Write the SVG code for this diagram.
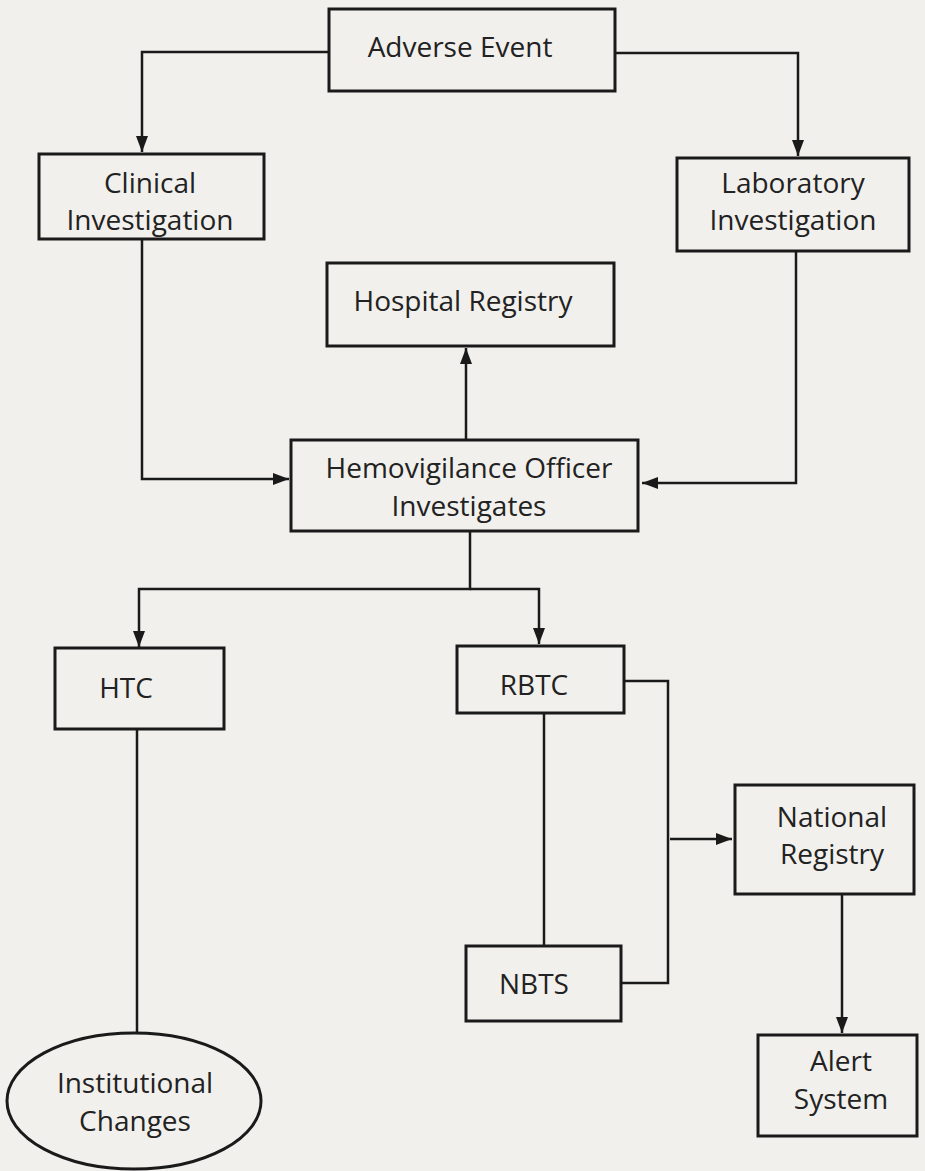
<svg xmlns="http://www.w3.org/2000/svg" width="925" height="1171" viewBox="0 0 925 1171">
<style>
.box{fill:none;stroke:#1a1a1a;stroke-width:3}
.ln{fill:none;stroke:#1a1a1a;stroke-width:2.5}
text{font-family:"Open Sans",Lato,"Liberation Sans",sans-serif;font-size:28px;fill:#222;text-anchor:middle}
</style>
<defs>
<marker id="ah" viewBox="0 0 16 12" refX="16" refY="6" markerWidth="16" markerHeight="12" markerUnits="userSpaceOnUse" orient="auto">
<path d="M0,0 L16,6 L0,12 Z" fill="#1a1a1a"/>
</marker>
</defs>
<rect width="925" height="1171" fill="#f1f0ec"/>
<g id="connectors">
<path class="ln" d="M329,52 H142 V152" marker-end="url(#ah)"/>
<path class="ln" d="M615,53 H798 V156" marker-end="url(#ah)"/>
<path class="ln" d="M466,440 V348" marker-end="url(#ah)"/>
<path class="ln" d="M142,239 V479 H289" marker-end="url(#ah)"/>
<path class="ln" d="M796,251 V483 H642" marker-end="url(#ah)"/>
<path class="ln" d="M470,531 V589 H139 V647" marker-end="url(#ah)"/>
<path class="ln" d="M470,589 H539 V644" marker-end="url(#ah)"/>
<path class="ln" d="M624,681 H668 V983 H621"/>
<path class="ln" d="M670,839 H732" marker-end="url(#ah)"/>
<path class="ln" d="M544,713 V946"/>
<path class="ln" d="M137,729 V1033"/>
<path class="ln" d="M842,894 V1033" marker-end="url(#ah)"/>
</g>
<g id="adverse-event">
<rect class="box" x="329" y="9" width="286" height="82"/>
<text x="460" y="57">Adverse Event</text>
</g>
<g id="clinical-investigation">
<rect class="box" x="39" y="154" width="225" height="85"/>
<text x="150" y="193">Clinical</text>
<text x="150" y="230">Investigation</text>
</g>
<g id="laboratory-investigation">
<rect class="box" x="677" y="158" width="232" height="93"/>
<text x="793" y="193">Laboratory</text>
<text x="793" y="230">Investigation</text>
</g>
<g id="hospital-registry">
<rect class="box" x="327" y="263" width="287" height="83"/>
<text x="463" y="311">Hospital Registry</text>
</g>
<g id="hemovigilance-officer">
<rect class="box" x="291" y="440" width="347" height="91"/>
<text x="469" y="478">Hemovigilance Officer</text>
<text x="469" y="516">Investigates</text>
</g>
<g id="htc">
<rect class="box" x="55" y="648" width="169" height="81"/>
<text x="126" y="698">HTC</text>
</g>
<g id="rbtc">
<rect class="box" x="457" y="646" width="167" height="67"/>
<text x="534" y="695">RBTC</text>
</g>
<g id="national-registry">
<rect class="box" x="735" y="785" width="179" height="109"/>
<text x="832" y="827">National</text>
<text x="832" y="864">Registry</text>
</g>
<g id="nbts">
<rect class="box" x="466" y="946" width="155" height="75"/>
<text x="534" y="994">NBTS</text>
</g>
<g id="alert-system">
<rect class="box" x="758" y="1035" width="159" height="101"/>
<text x="841" y="1071">Alert</text>
<text x="841" y="1109">System</text>
</g>
<g id="institutional-changes">
<ellipse class="box" cx="134" cy="1101" rx="127" ry="68"/>
<text x="135" y="1093">Institutional</text>
<text x="135" y="1131">Changes</text>
</g>
</svg>
